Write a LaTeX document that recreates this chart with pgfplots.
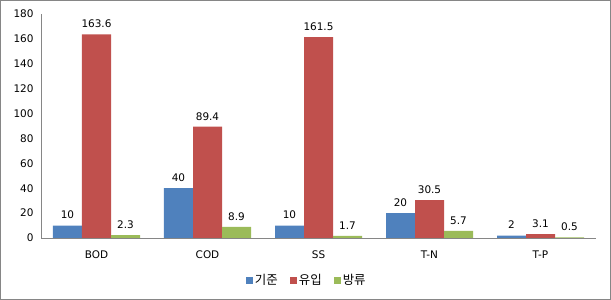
\documentclass[border=0pt]{standalone}
\usepackage{fontspec}
\setmainfont{DejaVu Sans}
\newfontfamily\kr{Noto Sans CJK KR}
\usepackage{pgfplots}
\pgfplotsset{compat=1.18}
\definecolor{cb}{HTML}{4F81BD}
\definecolor{cr}{HTML}{C0504D}
\definecolor{cg}{HTML}{9BBB59}
\definecolor{axg}{HTML}{868686}
\begin{document}
\begin{tikzpicture}
\useasboundingbox (-41bp,-62bp) rectangle (570bp,238bp);
\draw[color=axg, line width=1bp] (-40.5bp,-61.5bp) rectangle (569.5bp,237.5bp);
\begin{axis}[at={(0,0)}, anchor=south west, scale only axis,
  width=555bp, height=224bp,
  font=\fontsize{10.5}{12}\selectfont,
  /pgf/number format/assume math mode=true,
  ybar=0pt, bar width=29bp,
  ymin=0, ymax=180, xmin=-0.5, xmax=4.5,
  xtick={0,...,4}, xticklabels={BOD,COD,SS,T-N,T-P},
  ytick={0,20,...,180},
  axis x line*=bottom, axis y line*=left,
  axis line style={axg, line width=1bp, -},
  major tick length=0pt,
  tick pos=left,
  xticklabel style={yshift=-9bp},
  yticklabel style={xshift=-4bp},
  nodes near coords,
  every node near coord/.append style={font=\fontsize{10.5}{12}\selectfont, yshift=3bp, black},
  legend style={at={(0.479,-0.19)}, anchor=center, draw=none, fill=none,
    legend columns=3, font=\fontsize{12.5}{14}\selectfont,
    /tikz/every even column/.append style={column sep=10bp}},
  legend image code/.code={\fill[#1] (0bp,-3.5bp) rectangle (7bp,3.5bp);},
]
\addplot[fill=cb, draw=none] coordinates {(0,10) (1,40) (2,10) (3,20) (4,2)};
\addplot[fill=cr, draw=none] coordinates {(0,163.6) (1,89.4) (2,161.5) (3,30.5) (4,3.1)};
\addplot[fill=cg, draw=none] coordinates {(0,2.3) (1,8.9) (2,1.7) (3,5.7) (4,0.5)};
\legend{{\kr 기준},{\kr 유입},{\kr 방류}}
\end{axis}
\end{tikzpicture}
\end{document}
